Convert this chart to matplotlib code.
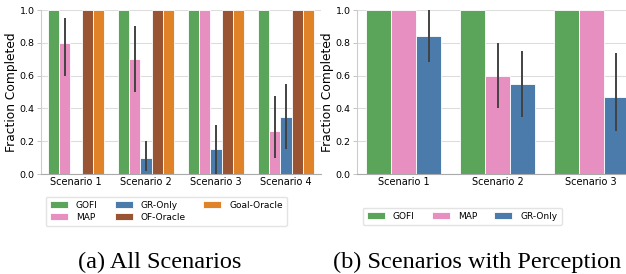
import matplotlib
matplotlib.use("Agg")
import matplotlib.pyplot as plt
import numpy as np

# panel (a): all scenarios
scen_a = ["Scenario 1", "Scenario 2", "Scenario 3", "Scenario 4"]
methods_a = ["GOFI", "MAP", "GR-Only", "OF-Oracle", "Goal-Oracle"]
vals_a = {
    "GOFI":        [1.0, 1.0, 1.0, 1.0],
    "MAP":         [0.8, 0.7, 1.0, 0.26],
    "GR-Only":     [0.0, 0.1, 0.15, 0.35],
    "OF-Oracle":   [1.0, 1.0, 1.0, 1.0],
    "Goal-Oracle": [1.0, 1.0, 1.0, 1.0],
}
# error bar low / high
err_a = {
    "MAP":     [(0.6, 0.95), (0.5, 0.9), (1.0, 1.0), (0.1, 0.475)],
    "GR-Only": [(0.0, 0.0), (0.02, 0.2), (0.0, 0.3), (0.15, 0.55)],
}

# panel (b): scenarios with perception
scen_b = ["Scenario 1", "Scenario 2", "Scenario 3"]
methods_b = ["GOFI", "MAP", "GR-Only"]
vals_b = {
    "GOFI":    [1.0, 1.0, 1.0],
    "MAP":     [1.0, 0.6, 1.0],
    "GR-Only": [0.84, 0.55, 0.47],
}
err_b = {
    "MAP":     [(1.0, 1.0), (0.4, 0.8), (1.0, 1.0)],
    "GR-Only": [(0.68, 1.0), (0.35, 0.75), (0.26, 0.74)],
}

colors = {
    "GOFI": "#5aa55a",
    "MAP": "#e88fc2",
    "GR-Only": "#4a7bab",
    "OF-Oracle": "#995533",
    "Goal-Oracle": "#e08228",
}

W, H = 626, 274
fig = plt.figure(figsize=(W / 100, H / 100), dpi=100)


def draw(ax, scen, methods, vals, errs):
    n = len(methods)
    bw = 0.8 / n
    x = np.arange(len(scen))
    for i, m in enumerate(methods):
        pos = x - 0.4 + bw * (i + 0.5)
        ax.bar(pos, vals[m], width=bw, color=colors[m], edgecolor="white",
               linewidth=0.6, label=m, zorder=2)
        if m in errs:
            for p, (lo, hi) in zip(pos, errs[m]):
                ax.plot([p, p], [lo, hi], color="#424242", lw=1.4, zorder=3,
                        solid_capstyle="butt")
    ax.set_xlim(-0.5, len(scen) - 0.5)
    ax.set_ylim(0, 1.0)
    ax.set_xticks(x)
    ax.set_xticklabels(scen, fontsize=7)
    ax.set_yticks([0, 0.2, 0.4, 0.6, 0.8, 1.0])
    ax.set_yticklabels(["0.0", "0.2", "0.4", "0.6", "0.8", "1.0"], fontsize=6.8)
    ax.tick_params(axis="x", length=0, pad=2)
    ax.tick_params(axis="y", length=3, width=0.6, color="#bbbbbb", pad=1.5)
    ax.set_ylabel("Fraction Completed", fontsize=8.8, labelpad=1)
    ax.grid(axis="y", color="#dddddd", lw=0.8, zorder=0)
    ax.set_axisbelow(True)
    for s in ["top", "right"]:
        ax.spines[s].set_visible(False)
    ax.spines["left"].set_color("#cccccc")
    ax.spines["bottom"].set_color("#aaaaaa")
    ax.spines["left"].set_linewidth(0.8)
    ax.spines["bottom"].set_linewidth(0.8)


bot = 1 - 174 / H
hgt = 164 / H
ax1 = fig.add_axes([41 / W, bot, 280 / W, hgt])
draw(ax1, scen_a, methods_a, vals_a, err_a)
ax2 = fig.add_axes([357 / W, bot, 281 / W, hgt])
draw(ax2, scen_b, methods_b, vals_b, err_b)

leg_kw = dict(loc="upper left", fontsize=6.5, frameon=True,
              edgecolor="#dddddd", handlelength=2.0, columnspacing=1.9,
              borderpad=0.45, labelspacing=0.35, handletextpad=0.9,
              fancybox=True, ncol=3)
h1, l1 = ax1.get_legend_handles_labels()
fig.legend(h1, l1, bbox_to_anchor=(41 / W, 1 - 192 / H), **leg_kw)
h2, l2 = ax2.get_legend_handles_labels()
fig.legend(h2, l2, bbox_to_anchor=(358 / W, 1 - 203 / H), **leg_kw)

fig.text(160 / W, 1 - 268 / H, "(a) All Scenarios", family="Liberation Serif",
         fontsize=17.5, ha="center", va="baseline")
fig.text(477 / W, 1 - 268 / H, "(b) Scenarios with Perception",
         family="Liberation Serif", fontsize=17.5, ha="center", va="baseline")

fig.savefig("out.png", dpi=100)
